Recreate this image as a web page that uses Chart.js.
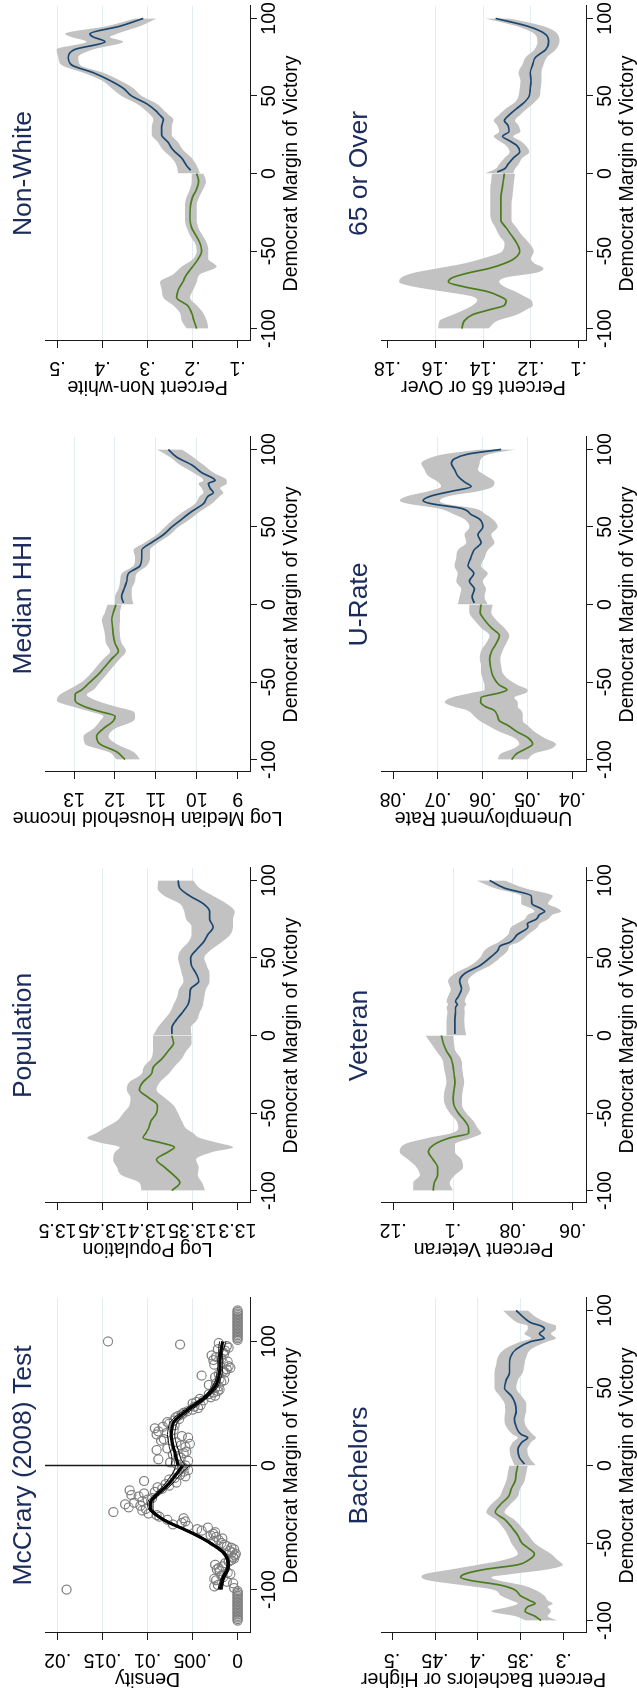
<!DOCTYPE html>
<html>
<head>
<meta charset="utf-8">
<script src="https://cdn.jsdelivr.net/npm/chart.js@4.4.1/dist/chart.umd.min.js"></script>
<style>
  html, body { margin: 0; padding: 0; background: #fff; }
  body { width: 637px; height: 1696px; overflow: hidden; position: relative; }
  #land {
    position: absolute; left: 0; top: 0; width: 1696px; height: 637px;
    transform-origin: 0 0; transform: translate(0px, 1696px) rotate(-90deg);
  }
  #land canvas { position: absolute; }
</style>
</head>
<body>
<div id="land"></div>
<script>
// ---- data ----
const xTicks = [-100, -50, 0, 50, 100];
const mcXTicks = [-100, 0, 100];
const cutoff = 0;

// McCrary density test: bin densities (two interleaved sets of bins)
const mcBinX = [-125,-122.5,-120,-117.5,-115,-112.5,-110,-107.5,-105,-102.5,-100,-97.5,-95,-92.5,-90,-87.5,-85,-82.5,-80,-77.5,-75,-72.5,-70,-67.5,-65,-62.5,-60,-57.5,-55,-52.5,-50,-47.5,-45,-42.5,-40,-37.5,-35,-32.5,-30,-27.5,-25,-22.5,-20,-17.5,-15,-12.5,-10,-7.5,-5,-2.5,0,2.5,5,7.5,10,12.5,15,17.5,20,22.5,25,27.5,30,32.5,35,37.5,40,42.5,45,47.5,50,52.5,55,57.5,60,62.5,65,67.5,70,72.5,75,77.5,80,82.5,85,87.5,90,92.5,95,97.5,100,102.5,105,107.5,110,112.5,115,117.5,120,122.5,125];
const mcBinY = [0,0,0,0,0,0,0,0,0,0,.019,.0026,.0005,.0024,.0016,.0008,.002,.0021,.0025,.001,.0004,.0003,.0006,.0004,.0012,.0018,.0021,.0024,.0027,.004,.0033,.0072,.0058,.006,.009,.0138,.0102,.0108,.0115,.01,.011,.0104,.012,.0089,.008,.0104,.007,.0064,.006,.0062,.0058,.0075,.0088,.0066,.006,.009,.0058,.0053,.0085,.0055,.009,.0088,.0092,.007,.0078,.0065,.0066,.006,.005,.0048,.005,.0038,.003,.0032,.0022,.0025,.0032,.0018,.002,.004,.0014,.0012,.001,.0016,.0027,.0024,.0015,.0014,.001,.0064,.0144,0,0,0,0,0,0,0,0,0,0];
const mcBinX2 = [-123.75,-121.25,-118.75,-116.25,-113.75,-111.25,-108.75,-106.25,-103.75,-101.25,-98.75,-96.25,-93.75,-91.25,-88.75,-86.25,-83.75,-81.25,-78.75,-76.25,-73.75,-71.25,-68.75,-66.25,-63.75,-61.25,-58.75,-56.25,-53.75,-51.25,-48.75,-46.25,-43.75,-41.25,-38.75,-36.25,-33.75,-31.25,-28.75,-26.25,-23.75,-21.25,-18.75,-16.25,-13.75,-11.25,-8.75,-6.25,-3.75,-1.25,1.25,3.75,6.25,8.75,11.25,13.75,16.25,18.75,21.25,23.75,26.25,28.75,31.25,33.75,36.25,38.75,41.25,43.75,46.25,48.75,51.25,53.75,56.25,58.75,61.25,63.75,66.25,68.75,71.25,73.75,76.25,78.75,81.25,83.75,86.25,88.75,91.25,93.75,96.25,98.75,101.25,103.75,106.25,108.75,111.25,113.75,116.25,118.75,121.25,123.75];
const mcBinY2 = [0,0,0,0,0,0,0,0,0,0,.0004,.0022,.0012,.0026,.0018,.0011,.0023,.0017,.0014,.0007,.0005,.0002,.0009,.0007,.0015,.0027,.0017,.003,.0025,.0045,.0055,.0062,.0078,.0087,.0099,.0106,.0121,.0125,.0106,.0095,.0118,.0092,.0084,.0076,.0068,.0076,.0058,.0067,.0055,.0061,.0068,.0055,.0063,.0072,.0057,.0078,.0063,.0068,.0082,.0062,.0079,.0071,.0083,.0076,.0071,.0069,.0062,.0056,.0044,.0041,.0046,.0042,.0025,.0027,.002,.0021,.0024,.0015,.0025,.0021,.0016,.0008,.0026,.0011,.0018,.0029,.0016,.0022,.0012,.0021,0,0,0,0,0,0,0,0,0,0];
// fitted density and confidence bounds, each side of the cutoff
const mcXL = [-100,-95,-90,-85,-80,-75,-70,-65,-60,-55,-50,-45,-40,-35,-30,-25,-20,-15,-10,-5,0];
const mcFitL = [.00196,.00178,.0016,.0012,.00104,.00115,.0016,.0025,.0036,.0049,.0064,.0079,.009,.00967,.0097,.0092,.00844,.0077,.00715,.0066,.0061];
const mcHiL = [.0022,.002,.0018,.0014,.0012,.0013,.0018,.0027,.0038,.0051,.0066,.0081,.0092,.0099,.01,.0095,.0088,.0081,.0076,.0071,.0069];
const mcLoL = [.0017,.0016,.0014,.001,.0009,.001,.0014,.0023,.0034,.0047,.0062,.0077,.0088,.0094,.0094,.0089,.0081,.0073,.0067,.0061,.0053];
const mcXR = [0,5,10,15,20,25,30,35,40,45,50,55,60,65,70,75,80,85,90,95,100];
const mcFitR = [.0066,.0068,.00696,.00715,.0073,.0074,.0073,.0071,.0064,.0055,.00456,.0036,.0029,.0024,.00215,.002,.00196,.00196,.0019,.0018,.00167];
const mcHiR = [.0074,.0073,.0074,.0076,.0077,.0078,.0077,.0075,.0068,.0059,.0049,.0039,.0032,.0027,.0024,.0023,.0022,.0022,.0021,.0021,.002];
const mcLoR = [.0058,.0063,.0065,.0067,.0069,.007,.0069,.0067,.006,.0051,.0042,.0033,.0026,.0021,.0019,.0017,.0017,.0017,.0017,.0015,.0013];

// Log population
const popXL = [-100,-95,-90,-85,-80,-75,-72,-69,-66,-63,-60,-55,-50,-45,-40,-35,-30,-25,-20,-15,-10,-5,0];
const popMeanL = [13.373,13.364,13.371,13.381,13.39,13.377,13.37,13.386,13.405,13.402,13.399,13.396,13.39,13.389,13.399,13.409,13.405,13.396,13.393,13.384,13.377,13.371,13.373];
const popHiL = [13.407,13.409,13.429,13.434,13.438,13.436,13.431,13.453,13.467,13.457,13.449,13.434,13.427,13.42,13.419,13.423,13.42,13.407,13.404,13.396,13.394,13.394,13.394];
const popLoL = [13.336,13.339,13.344,13.343,13.346,13.327,13.305,13.323,13.342,13.349,13.357,13.362,13.366,13.371,13.381,13.39,13.386,13.377,13.37,13.362,13.357,13.351,13.351];
const popXR = [1,5,10,15,20,25,30,35,40,45,50,55,60,65,70,75,80,85,90,95,100];
const popMeanR = [13.373,13.373,13.368,13.361,13.355,13.353,13.352,13.343,13.346,13.351,13.352,13.346,13.338,13.333,13.327,13.331,13.331,13.338,13.353,13.364,13.366];
const popHiR = [13.394,13.389,13.382,13.375,13.371,13.367,13.365,13.36,13.362,13.364,13.366,13.363,13.355,13.351,13.351,13.357,13.359,13.364,13.381,13.389,13.388];
const popLoR = [13.351,13.352,13.345,13.342,13.338,13.337,13.335,13.331,13.331,13.334,13.337,13.33,13.318,13.308,13.305,13.305,13.303,13.312,13.327,13.342,13.349];

// Log median household income
const hhiXL = [-100,-95,-90,-85,-80,-75,-72,-69,-66,-62,-58,-55,-50,-45,-40,-35,-30,-25,-20,-15,-10,-5,0];
const hhiMeanL = [11.754,11.957,12.365,12.446,12.283,12.039,11.998,12.365,12.731,12.976,12.976,12.813,12.609,12.405,12.242,12.079,11.916,11.998,12.039,12.055,12.079,12.039,11.974];
const hhiHiL = [11.957,12.161,12.731,12.772,12.527,12.365,12.283,12.609,13.016,13.424,13.342,13.139,12.813,12.609,12.446,12.283,12.12,12.218,12.242,12.283,12.324,12.242,12.185];
const hhiLoL = [11.387,11.55,11.957,12.161,11.998,11.55,11.509,11.55,11.957,12.446,12.69,12.527,12.365,12.2,12.039,11.876,11.729,11.835,11.876,11.892,11.876,11.876,11.835];
const hhiXR = [1,5,10,15,20,25,30,35,40,45,50,55,60,65,70,72,75,78,80,85,90,95,100];
const hhiMeanR = [11.794,11.835,11.778,11.713,11.672,11.387,11.346,11.346,11.102,10.817,10.613,10.369,10.124,9.839,9.717,9.595,9.676,9.717,9.554,9.88,10.124,10.491,10.695];
const hhiHiR = [11.998,11.998,11.916,11.876,11.835,11.55,11.509,11.55,11.265,10.98,10.776,10.572,10.328,10.043,9.921,9.839,9.88,9.961,9.839,10.084,10.409,10.654,10.98];
const hhiLoR = [11.55,11.591,11.591,11.509,11.468,11.224,11.143,11.143,10.939,10.654,10.45,10.165,9.921,9.635,9.432,9.35,9.432,9.269,9.269,9.595,9.839,10.084,10.369];

// Percent non-white
const nwXL = [-100,-95,-90,-85,-80,-75,-70,-65,-60,-55,-50,-45,-40,-35,-30,-25,-20,-15,-10,-5,0];
const nwMeanL = [.1911,.197,.2022,.2119,.2356,.2319,.2222,.2133,.2,.1874,.18,.1837,.1926,.2022,.2059,.2059,.2044,.2,.1911,.1867,.1911];
const nwHiL = [.2133,.2244,.2281,.243,.2652,.2689,.2726,.243,.2244,.1985,.1911,.1948,.2059,.2133,.217,.217,.217,.2133,.2059,.2022,.2022];
const nwLoL = [.1652,.1689,.1763,.1911,.2059,.1985,.1911,.1837,.1467,.1652,.1652,.1689,.1778,.1874,.1911,.1911,.1911,.1852,.1763,.1704,.1763];
const nwXR = [2,5,10,15,18,20,25,30,35,38,40,45,50,55,60,65,70,75,80,85,88,90,95,100];
const nwMeanR = [.2044,.2133,.2244,.243,.2504,.2541,.2689,.2689,.2652,.2741,.28,.3022,.3356,.3541,.3837,.4207,.4689,.4763,.4615,.3948,.4207,.4281,.3615,.3096];
const nwHiR = [.2319,.2356,.2467,.2652,.2726,.2763,.2911,.2911,.2874,.2948,.3022,.3244,.3578,.38,.4022,.443,.4911,.4985,.5022,.4356,.4689,.4837,.3911,.3281];
const nwLoR = [.1837,.1911,.2022,.2207,.2281,.2319,.2467,.2467,.243,.2541,.2615,.28,.3133,.3319,.3615,.3985,.4504,.4541,.4207,.3541,.3837,.3689,.317,.28];

// Percent bachelors or higher
const baXL = [-100,-97,-94,-91,-89,-87,-84,-80,-77,-74,-72,-70,-67,-64,-61,-57,-53,-50,-45,-40,-35,-30,-25,-20,-15,-10,-5,0];
const baMeanL = [.3264,.3341,.345,.3419,.3333,.3399,.3504,.3574,.3748,.4097,.4202,.4155,.3922,.3535,.3411,.3341,.3419,.3488,.3535,.3605,.3682,.3798,.3736,.3643,.3612,.3566,.3554,.3535];
const baHiL = [.3438,.3574,.3845,.3632,.3535,.3612,.3729,.3826,.4194,.4581,.4659,.462,.431,.4,.3709,.3535,.3574,.3612,.3651,.3709,.3787,.3903,.3845,.3748,.3709,.3671,.3651,.3632];
const baLoL = [.307,.3186,.3147,.3186,.3128,.3186,.3225,.3341,.3496,.3767,.3845,.3612,.3186,.3012,.307,.3147,.3264,.3341,.3411,.3488,.3574,.369,.362,.3535,.3508,.3457,.3438,.3419];
const baXR = [1,5,10,15,18,20,25,30,35,40,45,50,55,60,65,70,75,80,82,85,88,90,92,95,100];
const baMeanR = [.3457,.3516,.3535,.3488,.3419,.3496,.3554,.3574,.3554,.3566,.3612,.369,.3671,.3632,.3632,.362,.3554,.338,.3225,.3283,.3225,.3264,.338,.3457,.3554];
const baHiR = [.3574,.3612,.3632,.3593,.3535,.3593,.3671,.369,.3682,.369,.3748,.3806,.3806,.3806,.3787,.3767,.369,.3496,.338,.3457,.3419,.3419,.3535,.3612,.3709];
const baLoR = [.3322,.3399,.3426,.338,.3322,.336,.3438,.3457,.3438,.3438,.3496,.3554,.3535,.3477,.3457,.3438,.338,.3186,.3089,.3147,.3089,.3089,.3186,.3302,.3419];

// Percent veteran
const veXL = [-100,-95,-90,-85,-80,-75,-70,-66,-63,-60,-55,-50,-45,-40,-35,-30,-25,-20,-15,-10,-5,0];
const veMeanL = [.1067,.1063,.1052,.1052,.1067,.1083,.1061,.1011,.0948,.0948,.0961,.0983,.0997,.1,.0997,.0994,.0997,.1,.1006,.1022,.1033,.1039];
const veHiL = [.1133,.1133,.1111,.1122,.115,.1178,.1161,.1083,.1006,.0983,.0989,.1011,.1026,.1031,.1028,.1022,.1026,.1031,.1037,.1056,.1074,.1092];
const veLoL = [.1,.1011,.0994,.0967,.0972,.0994,.0994,.0939,.0906,.0917,.0933,.0956,.097,.097,.0967,.0963,.0967,.097,.0974,.0992,.0997,.1];
const veXR = [1,5,10,15,18,20,22,25,30,35,40,45,50,55,58,60,65,70,72,75,78,80,82,85,90,95,100];
const veMeanR = [.0994,.0994,.0994,.0992,.0992,.0986,.0992,.0983,.0972,.0978,.0961,.0911,.0878,.085,.0841,.0811,.0786,.075,.0752,.0722,.0711,.0694,.0708,.0737,.0739,.0828,.0878];
const veHiR = [.1022,.1022,.1022,.1019,.1022,.1017,.1022,.1017,.1008,.1017,.0994,.0944,.0911,.0894,.0872,.085,.0817,.0806,.0789,.0761,.075,.0728,.0739,.0772,.0772,.0861,.0922];
const veLoR = [.0956,.0961,.0963,.0961,.0963,.0956,.0961,.0956,.0944,.095,.0928,.0878,.0844,.0817,.0811,.0783,.075,.0717,.0711,.0683,.0667,.0639,.065,.0683,.0667,.0761,.0828];

// Unemployment rate
const urXL = [-100,-96,-93,-90,-86,-82,-78,-75,-72,-68,-66,-63,-60,-57,-55,-52,-48,-44,-40,-35,-30,-25,-20,-15,-10,-5,0];
const urMeanL = [.0536,.0524,.0504,.0489,.0499,.0524,.0544,.0563,.0567,.0576,.0593,.0605,.0604,.0563,.0546,.0563,.0574,.058,.0583,.0585,.058,.057,.0563,.0581,.0596,.0606,.0604];
const urHiL = [.0567,.0559,.0533,.0519,.053,.0563,.0589,.0607,.0619,.0637,.0663,.0685,.067,.0626,.0596,.0596,.06,.0604,.0604,.0607,.0604,.0593,.0585,.0604,.0619,.063,.063];
const urLoL = [.05,.0485,.0448,.0437,.0463,.0485,.05,.0511,.0511,.0515,.0522,.0522,.053,.0504,.05,.0522,.0544,.0556,.0559,.0561,.0556,.0548,.0541,.0552,.057,.0581,.0578];
const urXR = [1,5,10,15,20,25,30,35,40,45,50,55,58,62,65,67,70,73,76,79,83,87,91,94,97,100];
const urMeanR = [.0619,.0624,.0619,.063,.062,.0633,.0627,.062,.0604,.0611,.06,.0607,.0626,.0648,.0715,.0733,.0715,.067,.0626,.0641,.0656,.0663,.067,.0663,.0633,.0559];
const urHiR = [.0656,.0652,.0648,.0659,.0656,.0663,.0659,.0656,.0637,.0641,.063,.0641,.0663,.07,.0767,.0785,.0767,.0722,.0693,.07,.0722,.073,.0737,.0722,.0685,.0604];
const urLoR = [.0589,.0596,.0593,.06,.0589,.0604,.0596,.0589,.0574,.0581,.0567,.0578,.0593,.0619,.0685,.0696,.0674,.0611,.0578,.0574,.0593,.0611,.0607,.0604,.0585,.0526];

// Percent 65 or over
const o65XL = [-100,-95,-91,-88,-85,-82,-79,-76,-73,-70,-67,-64,-61,-58,-55,-50,-45,-40,-35,-30,-25,-20,-15,-10,-5,0];
const o65MeanL = [.1489,.1479,.1444,.1378,.1311,.1304,.1333,.1385,.1481,.1545,.1526,.1459,.137,.1311,.1271,.1247,.1259,.1281,.1304,.1326,.1326,.1326,.1326,.1321,.1316,.1311];
const o65HiL = [.1588,.1582,.1526,.1481,.1444,.1425,.1452,.157,.1689,.1751,.1741,.1689,.1585,.1481,.1407,.1319,.1311,.1333,.1348,.1366,.137,.137,.137,.137,.1366,.1363];
const o65LoL = [.1378,.1341,.1259,.1222,.1193,.1197,.123,.1267,.1311,.1333,.1304,.1178,.1148,.1185,.12,.1188,.1207,.1237,.1259,.1281,.1281,.1281,.1277,.1274,.1271,.1267];
const o65XR = [1,3,6,10,14,18,21,24,27,31,34,38,42,46,50,55,60,65,70,75,80,85,90,95,100];
const o65MeanR = [.1341,.1311,.1296,.1274,.1247,.1259,.1289,.1319,.1292,.1296,.1311,.1289,.1259,.1227,.1207,.1203,.12,.1203,.1193,.1181,.1138,.1126,.1141,.1215,.1348];
const o65HiR = [.1393,.1348,.1333,.1311,.1289,.1304,.1333,.1356,.1333,.1341,.1356,.1333,.1304,.1267,.1252,.1247,.1244,.1252,.1237,.1222,.1185,.1173,.1185,.1259,.1393];
const o65LoR = [.1274,.1267,.1252,.1237,.1207,.1222,.1244,.1274,.1244,.1252,.1267,.1244,.1215,.1185,.1163,.1159,.1156,.1156,.1148,.1133,.1096,.1081,.1089,.1148,.1289];

// ---- styling ----
const FONT = "'Liberation Sans', Arial, Helvetica, sans-serif";
const GREEN = '#4b7d1e';
const BLUE = '#1a476f';
const BAND = '#c2c2c2';
const GRID = '#e3edf0';
const AXIS = '#1a1a1a';
const TITLE = '#1b2c5c';
const NONE = 'rgba(0,0,0,0)';
const TICK_PX = 19.5;

const pts = (xs, ys) => xs.map((x, i) => ({ x: x, y: ys[i] }));

function bandSets(xL, meanL, hiL, loL, xR, meanR, hiR, loR) {
  const base = { pointRadius: 0, pointHoverRadius: 0, cubicInterpolationMode: 'monotone' };
  // the right-hand band is drawn from the cutoff so the two bands meet at 0
  const xRb = [cutoff].concat(xR.slice(1));
  return [
    Object.assign({ data: pts(xL, meanL), borderColor: GREEN, borderWidth: 1.7, fill: false }, base),
    Object.assign({ data: pts(xR, meanR), borderColor: BLUE, borderWidth: 1.7, fill: false }, base),
    Object.assign({ data: pts(xL, hiL), borderColor: NONE, borderWidth: 0, fill: false }, base),
    Object.assign({ data: pts(xL, loL), borderColor: NONE, borderWidth: 0, fill: '-1', backgroundColor: BAND }, base),
    Object.assign({ data: pts(xRb, hiR), borderColor: NONE, borderWidth: 0, fill: false }, base),
    Object.assign({ data: pts(xRb, loR), borderColor: NONE, borderWidth: 0, fill: '-1', backgroundColor: BAND }, base)
  ];
}

function mcSets() {
  const base = { pointRadius: 0, pointHoverRadius: 0, cubicInterpolationMode: 'monotone', fill: false };
  const dots = { showLine: false, pointRadius: 4.5, pointHoverRadius: 4.5,
                 pointBorderColor: '#7f7f7f', pointBackgroundColor: NONE, pointBorderWidth: 1.2 };
  return [
    Object.assign({ data: pts(mcXL, mcFitL), borderColor: '#000', borderWidth: 3.2 }, base),
    Object.assign({ data: pts(mcXR, mcFitR), borderColor: '#000', borderWidth: 3.2 }, base),
    Object.assign({ data: pts(mcXL, mcHiL), borderColor: '#000', borderWidth: 0.9 }, base),
    Object.assign({ data: pts(mcXL, mcLoL), borderColor: '#000', borderWidth: 0.9 }, base),
    Object.assign({ data: pts(mcXR, mcHiR), borderColor: '#000', borderWidth: 0.9 }, base),
    Object.assign({ data: pts(mcXR, mcLoR), borderColor: '#000', borderWidth: 0.9 }, base),
    Object.assign({ data: pts(mcBinX, mcBinY) }, dots),
    Object.assign({ data: pts(mcBinX2, mcBinY2) }, dots)
  ];
}

// rotated y labels, panel title, and the cutoff line
const deco = {
  id: 'deco',
  afterDatasetsDraw(chart, args, o) {
    if (!o.cutoffLine) return;
    const a = chart.chartArea, ctx = chart.ctx;
    const px = chart.scales.x.getPixelForValue(cutoff);
    ctx.save();
    ctx.strokeStyle = AXIS; ctx.lineWidth = 1.5;
    ctx.beginPath(); ctx.moveTo(px, a.top); ctx.lineTo(px, a.bottom); ctx.stroke();
    ctx.restore();
  },
  afterDraw(chart, args, o) {
    const ctx = chart.ctx, a = chart.chartArea, ys = chart.scales.y;
    ctx.save();
    ctx.fillStyle = '#000';
    ctx.font = TICK_PX + 'px ' + FONT;
    ctx.textAlign = 'center';
    ctx.textBaseline = 'middle';
    o.yTicks.forEach((v, i) => {
      ctx.save();
      ctx.translate(a.left - 26, ys.getPixelForValue(v));
      ctx.rotate(-Math.PI / 2);
      ctx.fillText(o.yLabels[i], 0, 0);
      ctx.restore();
    });
    ctx.fillStyle = TITLE;
    ctx.font = '26.5px ' + FONT;
    ctx.fillText(o.title, (a.left + a.right) / 2, a.top - 21);
    ctx.restore();
  }
};

const PLOT_W = 335, PLOT_H = 205;
const colLeft = [63, 493, 924, 1355];
const rowTop = [45, 381];

const panels = [
  { col: 0, row: 0, title: 'McCrary (2008) Test', yTitle: 'Density', xMin: -135, xMax: 135, xt: mcXTicks,
    yMin: -0.00137, yMax: 0.0214, yTicks: [0, .005, .01, .015, .02], yLabels: ['0', '.005', '.01', '.015', '.02'],
    noGrid: [0], sets: mcSets(), cutoffLine: true },
  { col: 1, row: 0, title: 'Population', yTitle: 'Log Population', xMin: -108, xMax: 108, xt: xTicks,
    yMin: 13.286, yMax: 13.514, yTicks: [13.3, 13.35, 13.4, 13.45, 13.5], yLabels: ['13.3', '13.35', '13.4', '13.45', '13.5'],
    noGrid: [13.3, 13.5], sets: bandSets(popXL, popMeanL, popHiL, popLoL, popXR, popMeanR, popHiR, popLoR) },
  { col: 2, row: 0, title: 'Median HHI', yTitle: 'Log Median Household Income', xMin: -108, xMax: 108, xt: xTicks,
    yMin: 8.70, yMax: 13.71, yTicks: [9, 10, 11, 12, 13], yLabels: ['9', '10', '11', '12', '13'],
    noGrid: [9], sets: bandSets(hhiXL, hhiMeanL, hhiHiL, hhiLoL, hhiXR, hhiMeanR, hhiHiR, hhiLoR) },
  { col: 3, row: 0, title: 'Non-White', yTitle: 'Percent Non-white', xMin: -108, xMax: 108, xt: xTicks,
    yMin: .0726, yMax: .528, yTicks: [.1, .2, .3, .4, .5], yLabels: ['.1', '.2', '.3', '.4', '.5'],
    noGrid: [.1], sets: bandSets(nwXL, nwMeanL, nwHiL, nwLoL, nwXR, nwMeanR, nwHiR, nwLoR) },
  { col: 0, row: 1, title: 'Bachelors', yTitle: 'Percent Bachelors or Higher', xMin: -108, xMax: 108, xt: xTicks,
    yMin: .274, yMax: .513, yTicks: [.3, .35, .4, .45, .5], yLabels: ['.3', '.35', '.4', '.45', '.5'],
    noGrid: [.3, .5], sets: bandSets(baXL, baMeanL, baHiL, baLoL, baXR, baMeanR, baHiR, baLoR) },
  { col: 1, row: 1, title: 'Veteran', yTitle: 'Percent Veteran', xMin: -108, xMax: 108, xt: xTicks,
    yMin: .0556, yMax: .1241, yTicks: [.06, .08, .1, .12], yLabels: ['.06', '.08', '.1', '.12'],
    noGrid: [.06, .12], sets: bandSets(veXL, veMeanL, veHiL, veLoL, veXR, veMeanR, veHiR, veLoR) },
  { col: 2, row: 1, title: 'U-Rate', yTitle: 'Unemployment Rate', xMin: -108, xMax: 108, xt: xTicks,
    yMin: .037, yMax: .0827, yTicks: [.04, .05, .06, .07, .08], yLabels: ['.04', '.05', '.06', '.07', '.08'],
    noGrid: [.04, .08], sets: bandSets(urXL, urMeanL, urHiL, urLoL, urXR, urMeanR, urHiR, urLoR) },
  { col: 3, row: 1, title: '65 or Over', yTitle: 'Percent 65 or Over', xMin: -108, xMax: 108, xt: xTicks,
    yMin: .097, yMax: .1827, yTicks: [.1, .12, .14, .16, .18], yLabels: ['.1', '.12', '.14', '.16', '.18'],
    noGrid: [.1, .18], sets: bandSets(o65XL, o65MeanL, o65HiL, o65LoL, o65XR, o65MeanR, o65HiR, o65LoR) }
];

const land = document.getElementById('land');
const PAD_L = 63, PAD_T = 45, PAD_R = 20, PAD_B = 70;

panels.forEach(p => {
  const cv = document.createElement('canvas');
  cv.width = PAD_L + PLOT_W + PAD_R;
  cv.height = PAD_T + PLOT_H + PAD_B;
  cv.style.left = (colLeft[p.col] - PAD_L) + 'px';
  cv.style.top = (rowTop[p.row] - PAD_T) + 'px';
  land.appendChild(cv);

  new Chart(cv, {
    type: 'line',
    data: { datasets: p.sets },
    plugins: [deco],
    options: {
      responsive: false,
      animation: false,
      events: [],
      layout: { padding: { left: 0, top: PAD_T, right: PAD_R, bottom: 0 } },
      plugins: {
        legend: { display: false },
        tooltip: { enabled: false },
        deco: { title: p.title, yTicks: p.yTicks, yLabels: p.yLabels, cutoffLine: !!p.cutoffLine }
      },
      scales: {
        x: {
          type: 'linear', min: p.xMin, max: p.xMax,
          afterBuildTicks: s => { s.ticks = p.xt.map(v => ({ value: v })); },
          afterFit: s => { s.height = PAD_B; },
          grid: { drawOnChartArea: false, drawTicks: true, tickLength: 7, tickColor: AXIS, tickWidth: 1 },
          border: { display: true, color: AXIS, width: 1 },
          ticks: { color: '#000', font: { family: FONT, size: TICK_PX, lineHeight: 1 }, padding: 3,
                   autoSkip: false, maxRotation: 0, minRotation: 0, callback: v => String(v) },
          title: { display: true, text: 'Democrat Margin of Victory', color: '#000',
                   font: { family: FONT, size: 19.5, lineHeight: 1 }, padding: { top: 0, bottom: 18.25 } }
        },
        y: {
          type: 'linear', min: p.yMin, max: p.yMax,
          afterBuildTicks: s => { s.ticks = p.yTicks.map(v => ({ value: v })); },
          afterFit: s => { s.width = PAD_L; },
          grid: {
            color: c => (c.tick && p.noGrid.some(g => Math.abs(g - c.tick.value) < 1e-9)) ? NONE : GRID,
            lineWidth: 1, drawTicks: true, tickLength: 7, tickColor: AXIS, tickWidth: 1
          },
          border: { display: true, color: AXIS, width: 1 },
          ticks: { display: false },
          title: { display: true, text: p.yTitle, color: '#000',
                   font: { family: FONT, size: 19.5, lineHeight: 1 }, padding: { top: 7.5, bottom: 0 } }
        }
      }
    }
  });
});
</script>
</body>
</html>
